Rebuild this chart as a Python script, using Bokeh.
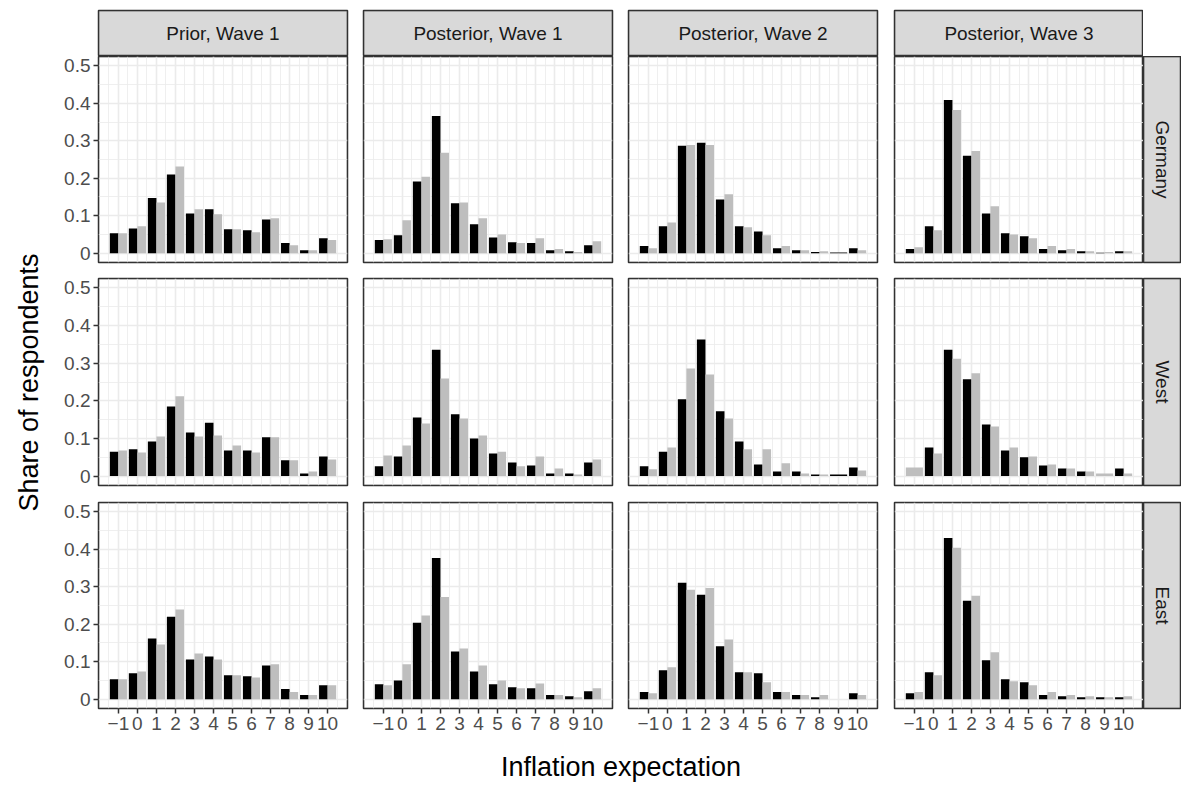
import math
from bokeh.plotting import figure
from bokeh.layouts import gridplot, row, column
from bokeh.models import Range1d, FixedTicker, Grid, Label, ColumnDataSource, NumeralTickFormatter, BoxAnnotation
from bokeh.embed import file_html
from bokeh.resources import INLINE

# ---------------- data ----------------
categories = [-1, 0, 1, 2, 3, 4, 5, 6, 7, 8, 9, 10]
x_tick_labels = ["\u22121", "0", "1", "2", "3", "4", "5", "6", "7", "8", "9", "10"]
y_ticks = [0, 0.1, 0.2, 0.3, 0.4, 0.5]
facet_columns = ["Prior, Wave 1", "Posterior, Wave 1", "Posterior, Wave 2", "Posterior, Wave 3"]
facet_rows = ["Germany", "West", "East"]

# Germany
germany_prior_w1_black = [0.053, 0.066, 0.147, 0.210, 0.106, 0.117, 0.064, 0.061, 0.090, 0.027, 0.008, 0.040]
germany_prior_w1_gray  = [0.053, 0.072, 0.135, 0.231, 0.117, 0.104, 0.064, 0.056, 0.093, 0.021, 0.008, 0.035]
germany_post_w1_black  = [0.035, 0.048, 0.191, 0.366, 0.133, 0.077, 0.042, 0.029, 0.027, 0.008, 0.005, 0.021]
germany_post_w1_gray   = [0.037, 0.088, 0.204, 0.268, 0.135, 0.093, 0.050, 0.027, 0.040, 0.011, 0.003, 0.032]
germany_post_w2_black  = [0.019, 0.072, 0.287, 0.295, 0.143, 0.072, 0.058, 0.013, 0.008, 0.003, 0.002, 0.013]
germany_post_w2_gray   = [0.013, 0.082, 0.289, 0.289, 0.157, 0.069, 0.048, 0.019, 0.008, 0.005, None, 0.008]
germany_post_w3_black  = [0.011, 0.072, 0.409, 0.260, 0.106, 0.053, 0.045, 0.011, 0.008, 0.005, 0.001, 0.005]
germany_post_w3_gray   = [0.016, 0.061, 0.382, 0.273, 0.125, 0.050, 0.040, 0.019, 0.011, 0.005, 0.003, 0.005]

# West
west_prior_w1_black = [0.065, 0.071, 0.092, 0.185, 0.116, 0.142, 0.068, 0.068, 0.103, 0.042, 0.007, 0.052]
west_prior_w1_gray  = [0.068, 0.063, 0.105, 0.212, 0.105, 0.108, 0.081, 0.063, 0.103, 0.042, 0.012, 0.044]
west_post_w1_black  = [0.026, 0.052, 0.156, 0.336, 0.164, 0.100, 0.060, 0.036, 0.028, 0.007, 0.007, 0.036]
west_post_w1_gray   = [0.055, 0.081, 0.140, 0.259, 0.153, 0.108, 0.065, 0.026, 0.052, 0.020, 0.004, 0.044]
west_post_w2_black  = [0.026, 0.065, 0.204, 0.363, 0.172, 0.092, 0.031, 0.012, 0.012, 0.004, 0.004, 0.023]
west_post_w2_gray   = [0.018, 0.076, 0.286, 0.270, 0.153, 0.071, 0.071, 0.034, 0.007, 0.004, None, 0.015]
west_post_w3_black  = [None, 0.076, 0.336, 0.257, 0.137, 0.068, 0.050, 0.028, 0.020, 0.012, None, 0.020]
west_post_w3_gray   = [0.023, 0.060, 0.312, 0.273, 0.132, 0.076, 0.052, 0.031, 0.020, 0.012, 0.007, 0.007]

# East
east_prior_w1_black = [0.053, 0.069, 0.162, 0.220, 0.106, 0.114, 0.064, 0.061, 0.090, 0.027, 0.011, 0.037]
east_prior_w1_gray  = [0.053, 0.074, 0.146, 0.239, 0.122, 0.106, 0.064, 0.058, 0.093, 0.019, 0.011, 0.037]
east_post_w1_black  = [0.040, 0.050, 0.204, 0.377, 0.127, 0.074, 0.040, 0.032, 0.029, 0.011, 0.008, 0.021]
east_post_w1_gray   = [0.037, 0.093, 0.223, 0.273, 0.135, 0.090, 0.050, 0.029, 0.042, 0.011, 0.005, 0.029]
east_post_w2_black  = [0.019, 0.077, 0.311, 0.279, 0.141, 0.072, 0.069, 0.019, 0.011, 0.005, None, 0.016]
east_post_w2_gray   = [0.016, 0.085, 0.292, 0.297, 0.159, 0.072, 0.045, 0.019, 0.011, 0.011, None, 0.011]
east_post_w3_black  = [0.016, 0.072, 0.430, 0.263, 0.104, 0.053, 0.045, 0.011, 0.008, 0.005, 0.005, 0.005]
east_post_w3_gray   = [0.019, 0.064, 0.404, 0.276, 0.125, 0.048, 0.037, 0.019, 0.011, 0.008, 0.005, 0.008]

panel_data = [
    [(germany_prior_w1_black, germany_prior_w1_gray), (germany_post_w1_black, germany_post_w1_gray),
     (germany_post_w2_black, germany_post_w2_gray), (germany_post_w3_black, germany_post_w3_gray)],
    [(west_prior_w1_black, west_prior_w1_gray), (west_post_w1_black, west_post_w1_gray),
     (west_post_w2_black, west_post_w2_gray), (west_post_w3_black, west_post_w3_gray)],
    [(east_prior_w1_black, east_prior_w1_gray), (east_post_w1_black, east_post_w1_gray),
     (east_post_w2_black, east_post_w2_gray), (east_post_w3_black, east_post_w3_gray)],
]

# ---------------- style ----------------
FONT = "Liberation Sans"
BLACK = "#000000"
GRAY = "#BEBEBE"
GRID = "#EBEBEB"
BORDER = "#333333"
TICK_TXT = "#4D4D4D"
STRIP_FILL = "#D9D9D9"
STRIP_TXT = "#1A1A1A"
TICK_FS = "19px"
STRIP_FS = "19px"
TITLE_FS = "27px"

DODGE = 0.9
X_LO, X_HI = -2.045, 11.045
Y_LO, Y_HI = -0.025, 0.525

YLAB_W = 50
FRAME_W = 249
COL_LEFT = [48, 14, 14, 15]
COL_RIGHT = [2, 2, 2, 0]
ROW_TOP = [0, 8, 9]
FRAME_H = [206, 207, 206]
ROW_BOTTOM = [8, 8, 39]
STRIP_TOP_MARGIN = 10
STRIP_H = 46
RSTRIP_W = 38
XLAB_H = 40

x_minor = [c - 0.5 for c in categories] + [categories[-1] + 0.5]
y_minor = [(a + b) / 2 for a, b in zip(y_ticks[:-1], y_ticks[1:])]


def bar_source(black, gray):
    xs, tops, widths, colors = [], [], [], []
    for cat, b, g in zip(categories, black, gray):
        if b is not None and g is not None:
            xs += [cat - DODGE / 4, cat + DODGE / 4]
            tops += [b, g]
            widths += [DODGE / 2, DODGE / 2]
            colors += [BLACK, GRAY]
        elif b is not None:
            xs.append(cat); tops.append(b); widths.append(DODGE); colors.append(BLACK)
        elif g is not None:
            xs.append(cat); tops.append(g); widths.append(DODGE); colors.append(GRAY)
    return ColumnDataSource(dict(x=xs, top=tops, w=widths, c=colors))


def blank_fig(width, height, **kw):
    p = figure(width=width, height=height, output_backend="svg", toolbar_location=None,
               x_axis_location=None, y_axis_location=None,
               min_border_left=kw.get("bl", 0), min_border_right=kw.get("br", 0),
               min_border_top=kw.get("bt", 0), min_border_bottom=kw.get("bb", 0),
               x_range=kw.get("xr", Range1d(0, 1)), y_range=kw.get("yr", Range1d(0, 1)))
    p.grid.visible = False
    p.outline_line_color = None
    p.background_fill_color = "white"
    p.border_fill_color = "white"
    return p


def add_border(p):
    p.outline_line_color = BORDER
    p.outline_line_width = 1.5
    p.add_layout(BoxAnnotation(fill_alpha=0, fill_color=None, line_color=BORDER, line_width=1.5,
                               level="overlay"))


def make_panel(r, c):
    w = COL_LEFT[c] + FRAME_W + COL_RIGHT[c]
    h = ROW_TOP[r] + FRAME_H[r] + ROW_BOTTOM[r]
    p = figure(width=w, height=h, output_backend="svg", toolbar_location=None,
               x_range=Range1d(X_LO, X_HI), y_range=Range1d(Y_LO, Y_HI),
               x_axis_location="below" if r == 2 else None,
               y_axis_location="left" if c == 0 else None,
               min_border_left=COL_LEFT[c], min_border_right=COL_RIGHT[c],
               min_border_top=ROW_TOP[r], min_border_bottom=ROW_BOTTOM[r])
    p.grid.visible = False
    p.background_fill_color = "white"
    p.border_fill_color = "white"
    p.add_layout(Grid(dimension=0, ticker=FixedTicker(ticks=categories, minor_ticks=x_minor),
                      grid_line_color=GRID, grid_line_width=1.6,
                      minor_grid_line_color=GRID, minor_grid_line_width=0.8))
    p.add_layout(Grid(dimension=1, ticker=FixedTicker(ticks=y_ticks, minor_ticks=y_minor),
                      grid_line_color=GRID, grid_line_width=1.6,
                      minor_grid_line_color=GRID, minor_grid_line_width=0.8))
    black, gray = panel_data[r][c]
    p.vbar(x="x", top="top", width="w", bottom=0, fill_color="c", line_color=None,
           source=bar_source(black, gray))
    add_border(p)
    for ax in (p.xaxis if r == 2 else []):
        ax.ticker = FixedTicker(ticks=categories)
        ax.major_label_overrides = dict(zip(categories, x_tick_labels))
    for ax in (p.yaxis if c == 0 else []):
        ax.ticker = FixedTicker(ticks=y_ticks)
        ax.formatter = NumeralTickFormatter(format="0.[0]")
    for ax in list(p.xaxis if r == 2 else []) + list(p.yaxis if c == 0 else []):
        ax.axis_line_color = None
        ax.minor_tick_line_color = None
        ax.major_tick_line_color = BORDER
        ax.major_tick_line_width = 1.5
        ax.major_tick_out = 5
        ax.major_tick_in = 0
        ax.major_label_standoff = 3
        ax.major_label_text_font = FONT
        ax.major_label_text_font_size = TICK_FS
        ax.major_label_text_color = TICK_TXT
    return p


def top_strip(c, text):
    p = blank_fig(COL_LEFT[c] + FRAME_W + COL_RIGHT[c], STRIP_TOP_MARGIN + STRIP_H,
                  bl=COL_LEFT[c], br=COL_RIGHT[c], bt=STRIP_TOP_MARGIN)
    p.background_fill_color = STRIP_FILL
    add_border(p)
    p.add_layout(Label(x=0.5, y=0.5, text=text, text_align="center", text_baseline="middle",
                       text_font=FONT, text_font_size=STRIP_FS, text_color=STRIP_TXT))
    return p


def right_strip(r, text):
    p = blank_fig(RSTRIP_W, ROW_TOP[r] + FRAME_H[r] + ROW_BOTTOM[r], bt=ROW_TOP[r], bb=ROW_BOTTOM[r])
    p.background_fill_color = STRIP_FILL
    add_border(p)
    p.add_layout(Label(x=0.5, y=0.5, text=text, text_align="center", text_baseline="middle",
                       angle=-math.pi / 2,
                       text_font=FONT, text_font_size=STRIP_FS, text_color=STRIP_TXT))
    return p


grid_rows = [[top_strip(c, facet_columns[c]) for c in range(4)] + [None]]
for r in range(3):
    grid_rows.append([make_panel(r, c) for c in range(4)] + [right_strip(r, facet_rows[r])])

grid = gridplot(grid_rows, toolbar_location=None)

total_w = sum(COL_LEFT) + sum(COL_RIGHT) + 4 * FRAME_W + RSTRIP_W
grid_h = STRIP_TOP_MARGIN + STRIP_H + sum(ROW_TOP) + sum(FRAME_H) + sum(ROW_BOTTOM)
total_h = grid_h + XLAB_H

# y-axis title
ylab = blank_fig(YLAB_W, total_h, xr=Range1d(0, YLAB_W), yr=Range1d(0, total_h))
panels_top = STRIP_TOP_MARGIN + STRIP_H
panels_bottom = grid_h - ROW_BOTTOM[2]
ylab.add_layout(Label(x=28, y=total_h - (panels_top + panels_bottom) / 2, text="Share of respondents",
                      angle=math.pi / 2, text_align="center", text_baseline="middle",
                      text_font=FONT, text_font_size=TITLE_FS, text_color="black"))

# x-axis title
xlab = blank_fig(total_w, XLAB_H, xr=Range1d(0, total_w), yr=Range1d(0, XLAB_H))
frames_left = COL_LEFT[0]
frames_right = total_w - RSTRIP_W
xlab.add_layout(Label(x=(frames_left + frames_right) / 2, y=XLAB_H - 19, text="Inflation expectation",
                      text_align="center", text_baseline="middle",
                      text_font=FONT, text_font_size=TITLE_FS, text_color="black"))

layout = row(ylab, column(grid, xlab))

with open("out.html", "w") as f:
    f.write(file_html(layout, INLINE))
